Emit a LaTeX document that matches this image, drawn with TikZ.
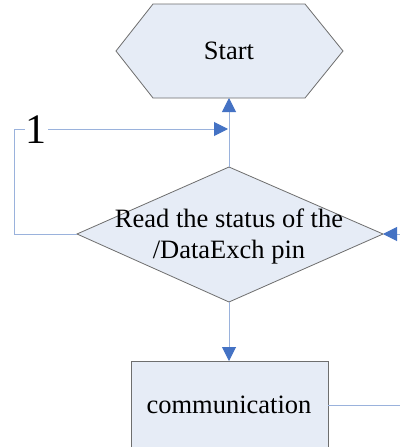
\documentclass[tikz,border=0pt]{standalone}
\usepackage{fontspec}
\setmainfont{Liberation Serif}
\usetikzlibrary{shapes.geometric,arrows.meta}
\definecolor{shapefill}{HTML}{E6ECF6}
\definecolor{shapeline}{HTML}{6E6E6E}
\definecolor{linkline}{HTML}{9AB2DC}
\definecolor{tipblue}{HTML}{4472C4}
\begin{document}
\begin{tikzpicture}[x=1pt,y=-1pt,
  shapebox/.style={draw=shapeline,fill=shapefill,line width=0.8pt},
  link/.style={draw=linkline,line width=1pt},
  arrowlink/.style={link,-{Triangle[length=14pt,width=14pt,fill=tipblue,color=tipblue]}},
  lbl/.style={font=\fontsize{26.5}{31}\selectfont,text=black}]
\useasboundingbox (0,0) rectangle (399,447);
\fill[white] (0,0) rectangle (399,447);

% start terminator
\draw[shapebox] (153,4) -- (305,4) -- (343,51) -- (305,98) -- (153,98) -- (116,51) -- cycle;
\node[lbl] (start) at (229,51) {Start};
\coordinate (startB) at (229,98);

% decision
\draw[shapebox] (229,167) -- (383,234) -- (229,302) -- (77,234) -- cycle;
\coordinate (decT) at (229,167);
\coordinate (decL) at (77,234);
\coordinate (decR) at (383,234);
\coordinate (decB) at (229,302);
\node[lbl,align=center] (dec) at (229,236) {Read the status of the\\/DataExch pin};

% process box running past the lower edge
\draw[shapebox] (131,461) -- (131,361) -- (328,361) -- (328,461);
\coordinate (boxT) at (229,361);
\coordinate (boxR) at (328,405);
\node[lbl] (comm) at (229,405) {communication};

% connectors
\coordinate (loopA) at (14,234);
\coordinate (loopB) at (14,129);
\coordinate (joint) at (228,129);
\coordinate (rightIn) at (400,234);
\coordinate (rightOut) at (400,405);

\draw[arrowlink] (decT) -- (startB);
\draw[link] (decL) -- (loopA) -- (loopB);
\draw[arrowlink] (loopB) -- (joint);
\node[fill=white,inner sep=1pt,font=\fontsize{42}{44}\selectfont] (one) at (36,130) {1};
\draw[arrowlink] (rightIn) -- (decR);
\draw[arrowlink] (decB) -- (boxT);
\draw[link] (boxR) -- (rightOut);
\end{tikzpicture}
\end{document}
